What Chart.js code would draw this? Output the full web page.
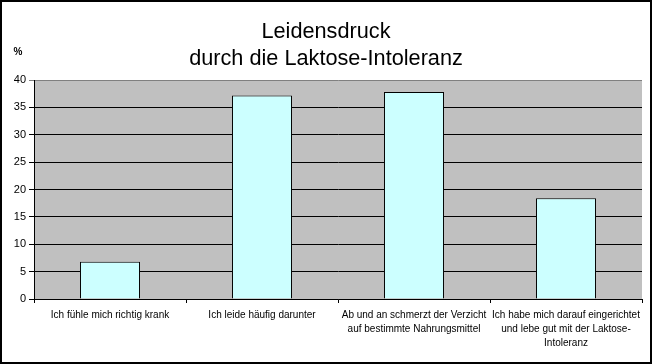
<!DOCTYPE html>
<html>
<head>
<meta charset="utf-8">
<script src="https://cdn.jsdelivr.net/npm/chart.js@4/dist/chart.umd.min.js"></script>
<style>
html,body{margin:0;padding:0;background:#fff;}
#wrap{width:652px;height:364px;position:relative;}
</style>
</head>
<body>
<div id="wrap"><canvas id="c" width="652" height="364"></canvas></div>
<script>
const categories = [
  ["Ich fühle mich richtig krank"],
  ["Ich leide häufig darunter"],
  ["Ab und an schmerzt der Verzicht", "auf bestimmte Nahrungsmittel"],
  ["Ich habe mich darauf eingerichtet", "und lebe gut mit der Laktose-", "Intoleranz"]
];
const values = [6.8, 37.2, 37.8, 18.4];
const titleLines = ["Leidensdruck", "durch die Laktose-Intoleranz"];
const yUnit = "%";
const FONT = "'Liberation Sans', Arial, sans-serif";

const bgPlugin = {
  id: 'bg',
  beforeDraw(chart) {
    const {ctx, chartArea: a} = chart;
    ctx.save();
    ctx.fillStyle = '#fff';
    ctx.fillRect(0, 0, chart.width, chart.height);
    ctx.fillStyle = '#C0C0C0';
    ctx.fillRect(a.left, a.top, a.right - a.left, a.bottom - a.top);
    ctx.restore();
  },
  afterDraw(chart) {
    const {ctx} = chart;
    ctx.save();
    ctx.strokeStyle = '#000';
    ctx.lineWidth = 2;
    ctx.strokeRect(1, 1, chart.width - 2, chart.height - 2);
    ctx.fillStyle = '#000';
    ctx.font = "bold 10px " + FONT;
    ctx.textAlign = 'center';
    ctx.textBaseline = 'middle';
    ctx.fillText(yUnit, 18, 52);
    ctx.restore();
  }
};

new Chart(document.getElementById('c'), {
  type: 'bar',
  data: {
    labels: categories,
    datasets: [{
      data: values,
      backgroundColor: '#CCFFFF',
      borderColor: '#000',
      borderWidth: 1,
      barPercentage: 0.395,
      categoryPercentage: 1
    }]
  },
  options: {
    responsive: false,
    animation: false,
    devicePixelRatio: 1,
    layout: { padding: { left: 10, right: 10, top: 0, bottom: 0 } },
    plugins: {
      legend: { display: false },
      tooltip: { enabled: false },
      title: {
        display: true,
        text: titleLines,
        color: '#000',
        font: { family: FONT, size: 21.7, weight: 'normal', lineHeight: 1.25 },
        padding: { top: 18, bottom: 7.8 }
      }
    },
    scales: {
      x: {
        grid: {
          offset: true,
          drawOnChartArea: false,
          drawTicks: true,
          tickLength: 4,
          color: '#000'
        },
        border: { color: '#000', width: 1 },
        ticks: {
          color: '#000',
          font: { family: FONT, size: 10, lineHeight: 1.4 },
          maxRotation: 0,
          autoSkip: false,
          padding: 5
        },
        afterFit(scale) { scale.height = 65; }
      },
      y: {
        min: 0,
        max: 40,
        grid: {
          color: (c) => (c.tick && c.tick.value === 40) ? '#808080' : '#000',
          tickLength: 5,
          drawTicks: true
        },
        border: { color: '#000', width: 1 },
        ticks: {
          stepSize: 5,
          color: '#000',
          font: { family: FONT, size: 11 },
          padding: 3
        },
        afterFit(scale) { scale.width = 24; }
      }
    }
  },
  plugins: [bgPlugin]
});
</script>
</body>
</html>
